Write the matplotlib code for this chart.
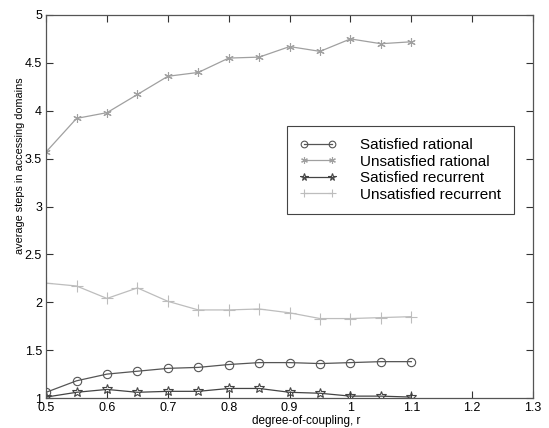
import matplotlib.pyplot as plt

plt.rcParams['font.family'] = ['Liberation Sans', 'DejaVu Sans']

# degree of coupling
r = [0.5, 0.55, 0.6, 0.65, 0.7, 0.75, 0.8, 0.85, 0.9, 0.95, 1.0, 1.05, 1.1]

sat_rational = [1.06, 1.18, 1.25, 1.28, 1.31, 1.32, 1.35, 1.37, 1.37, 1.36, 1.37, 1.38, 1.38]
unsat_rational = [3.57, 3.92, 3.98, 4.17, 4.36, 4.40, 4.55, 4.56, 4.67, 4.62, 4.75, 4.70, 4.72]
sat_recurrent = [1.01, 1.06, 1.09, 1.06, 1.07, 1.07, 1.10, 1.10, 1.06, 1.05, 1.02, 1.02, 1.01]
unsat_recurrent = [2.20, 2.17, 2.04, 2.15, 2.01, 1.92, 1.92, 1.93, 1.89, 1.83, 1.83, 1.84, 1.85]

xticks = [0.5, 0.6, 0.7, 0.8, 0.9, 1.0, 1.1, 1.2, 1.3]
xticklabels = ["0.5", "0.6", "0.7", "0.8", "0.9", "1", "1.1", "1.2", "1.3"]
yticks = [1, 1.5, 2, 2.5, 3, 3.5, 4, 4.5, 5]
yticklabels = ["1", "1.5", "2", "2.5", "3", "3.5", "4", "4.5", "5"]

fig = plt.figure(figsize=(5.49, 4.28), dpi=100)
ax = fig.add_axes([0.084, 0.07, 0.887, 0.895])

ax.plot(r, sat_rational, color="#555555", lw=0.9, marker="o", ms=6,
        mfc="none", mec="#555555", mew=0.8, label="Satisfied rational")
ax.plot(r, unsat_rational, color="#a0a0a0", lw=0.9, marker=(6, 2, 0), ms=6,
        mec="#a0a0a0", mew=0.8, label="Unsatisfied rational")
ax.plot(r, sat_recurrent, color="#444444", lw=0.9, marker="*", ms=7,
        mfc="none", mec="#444444", mew=0.8, label="Satisfied recurrent")
ax.plot(r, unsat_recurrent, color="#bdbdbd", lw=0.9, marker="+", ms=8,
        mec="#bdbdbd", mew=0.8, label="Unsatisfied recurrent")

ax.set_xlim(0.5, 1.3)
ax.set_ylim(1, 5)
ax.set_xticks(xticks)
ax.set_xticklabels(xticklabels)
ax.set_yticks(yticks)
ax.set_yticklabels(yticklabels)
ax.tick_params(direction="in", top=True, right=True, length=5, width=0.8,
               labelsize=9, color="#333333", pad=3)
for s in ax.spines.values():
    s.set_color("#555555")
    s.set_linewidth(0.9)

ax.set_xlabel("degree-of-coupling, r", fontsize=8.5, va="center")
ax.xaxis.set_label_coords(0.534, -0.06)
ax.set_ylabel("average steps in accessing domains", fontsize=7.8, va="center")
ax.yaxis.set_label_coords(-0.053, 0.606)

leg = ax.legend(loc="upper left", bbox_to_anchor=(0.495, 0.711), fontsize=11,
                handlelength=2.45, numpoints=2, fancybox=False, framealpha=1,
                edgecolor="#444444", borderpad=0.8, labelspacing=0.17,
                handletextpad=1.55, borderaxespad=0, markerscale=0.8)
leg.get_frame().set_linewidth(0.8)

plt.savefig("out.png", dpi=100)
plt.close()
